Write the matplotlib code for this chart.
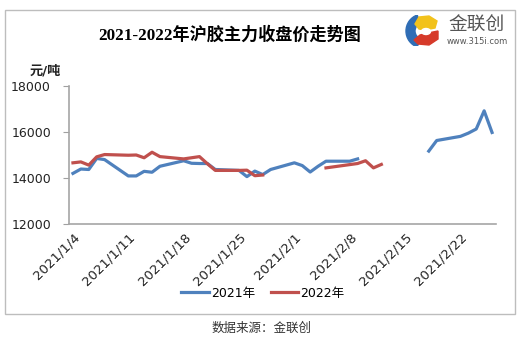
import numpy as np
import matplotlib
matplotlib.use("Agg")
import matplotlib.pyplot as plt
from matplotlib.patches import Rectangle, Wedge, Polygon, Ellipse
from datetime import datetime, timedelta

plt.rcParams['font.family'] = ['DejaVu Sans', 'Noto Sans CJK SC']

# DATA (x positions on the 2021 date axis)
dates_2021 = ['2021-01-04', '2021-01-05', '2021-01-06', '2021-01-07', '2021-01-08',
              '2021-01-11', '2021-01-12', '2021-01-13', '2021-01-14', '2021-01-15',
              '2021-01-18', '2021-01-19', '2021-01-20', '2021-01-21', '2021-01-22',
              '2021-01-25', '2021-01-26', '2021-01-27', '2021-01-28', '2021-01-29',
              '2021-02-01', '2021-02-02', '2021-02-03', '2021-02-04', '2021-02-05',
              '2021-02-08', '2021-02-09', '2021-02-10',
              '2021-02-18', '2021-02-19',
              '2021-02-22', '2021-02-23', '2021-02-24', '2021-02-25', '2021-02-26']
price_2021 = [14200, 14390, 14370, 14850, 14800,
              14090, 14090, 14290, 14250, 14510,
              14750, 14640, 14630, 14630, 14370,
              14330, 14060, 14300, 14150, 14370,
              14660, 14540, 14260, 14510, 14730,
              14730, 14830, np.nan,
              15170, 15630,
              15810, 15950, 16130, 16920, 15980]

dates_2022 = ['2021-01-04', '2021-01-05', '2021-01-06', '2021-01-07', '2021-01-08',
              '2021-01-11', '2021-01-12', '2021-01-13', '2021-01-14', '2021-01-15',
              '2021-01-18', '2021-01-19', '2021-01-20', '2021-01-21', '2021-01-22',
              '2021-01-25', '2021-01-26', '2021-01-27', '2021-01-28', '2021-01-29',
              '2021-02-05', '2021-02-09', '2021-02-10', '2021-02-11', '2021-02-12']
price_2022 = [14660, 14700, 14560, 14920, 15020,
              14990, 15000, 14880, 15120, 14930,
              14830, 14880, 14930, 14620, 14330,
              14330, 14340, 14100, 14130, np.nan,
              14440, 14630, 14750, 14440, 14590]

tick_dates = ['2021-01-04', '2021-01-11', '2021-01-18', '2021-01-25',
              '2021-02-01', '2021-02-08', '2021-02-15', '2021-02-22']
y_ticks = [12000, 14000, 16000, 18000]

W, H = 524, 364
fig = plt.figure(figsize=(W / 100, H / 100), dpi=100)


def fx(px):
    return px / W


def fy(py):
    return 1 - py / H


to_dt = lambda s: datetime.strptime(s, '%Y-%m-%d')

ax = fig.add_axes([fx(69), fy(224), fx(496) - fx(69), fy(86) - fy(224)])
ax.plot([to_dt(d) for d in dates_2021], price_2021, color='#4F81BD', lw=2.3,
        label='2021年', solid_joinstyle='round')
ax.plot([to_dt(d) for d in dates_2022], price_2022, color='#C0504D', lw=2.3,
        label='2022年', solid_joinstyle='round')

start = to_dt('2021-01-04')
ax.set_xlim(start - timedelta(hours=12), to_dt('2021-02-26') + timedelta(hours=12))
ax.set_ylim(12000, 18000)
ax.set_yticks(y_ticks)
ax.set_xticks([to_dt(d) for d in tick_dates])
ax.set_xticklabels([f'{to_dt(d).year}/{to_dt(d).month}/{to_dt(d).day}' for d in tick_dates],
                   rotation=45, ha='right', rotation_mode='anchor', fontsize=9.5, color='#222222')
ax.tick_params(axis='x', length=0, pad=5)
ax.tick_params(axis='y', length=4, color='#a0a0a0', labelsize=9, labelcolor='#222222', pad=9)
for s in ['top', 'right']:
    ax.spines[s].set_visible(False)
for s in ['left', 'bottom']:
    ax.spines[s].set_color('#a6a6a6')
    ax.spines[s].set_linewidth(1.2)

# title and unit
fig.text(fx(230), fy(35), '2021-2022年沪胶主力收盘价走势图', ha='center', va='center',
         fontsize=12.3, fontweight='bold', family=['Liberation Serif', 'Noto Sans CJK SC'])
fig.text(fx(45), fy(71), '元/吨', ha='center', va='center', fontsize=9.5, fontweight='bold',
         color='#222222')

# legend
fig.legend(loc='center', bbox_to_anchor=(fx(263), fy(293)), ncol=2, frameon=False,
           fontsize=9, handlelength=2.2, columnspacing=1.2, handletextpad=0.2)

# outer border
fig.patches.append(Rectangle((fx(5), fy(314)), fx(515) - fx(5), fy(10) - fy(314),
                             transform=fig.transFigure, fill=False, edgecolor='#bdbdbd', lw=1))

# footer
fig.text(fx(262), fy(328), '数据来源：金联创', ha='center', va='center', fontsize=9,
         color='#333333')

# logo
lg = fig.add_axes([fx(401), fy(46), fx(439) - fx(401), fy(15) - fy(46)])
lg.set_xlim(0, 38)
lg.set_ylim(0, 31)
lg.axis('off')
lg.add_patch(Wedge((22, 15), 17, 110, 250, width=9, color='#2f6db5'))
lg.add_patch(Polygon([[14, 22], [18, 29], [28, 30], [36, 25], [34, 18], [24, 16], [18, 17]],
                     closed=True, color='#f2c21b'))
lg.add_patch(Polygon([[13, 6], [17, 2], [28, 1], [37, 7], [37, 15], [27, 13], [19, 11]],
                     closed=True, color='#d63a2a'))
lg.add_patch(Ellipse((25, 14.5), 9, 6, color='white'))
fig.text(fx(477), fy(25), '金联创', ha='center', va='center', fontsize=13.5, color='#555555')
fig.text(fx(477), fy(42), 'www.315i.com', ha='center', va='center', fontsize=6, color='#555555')

fig.savefig('out.png', dpi=100)
